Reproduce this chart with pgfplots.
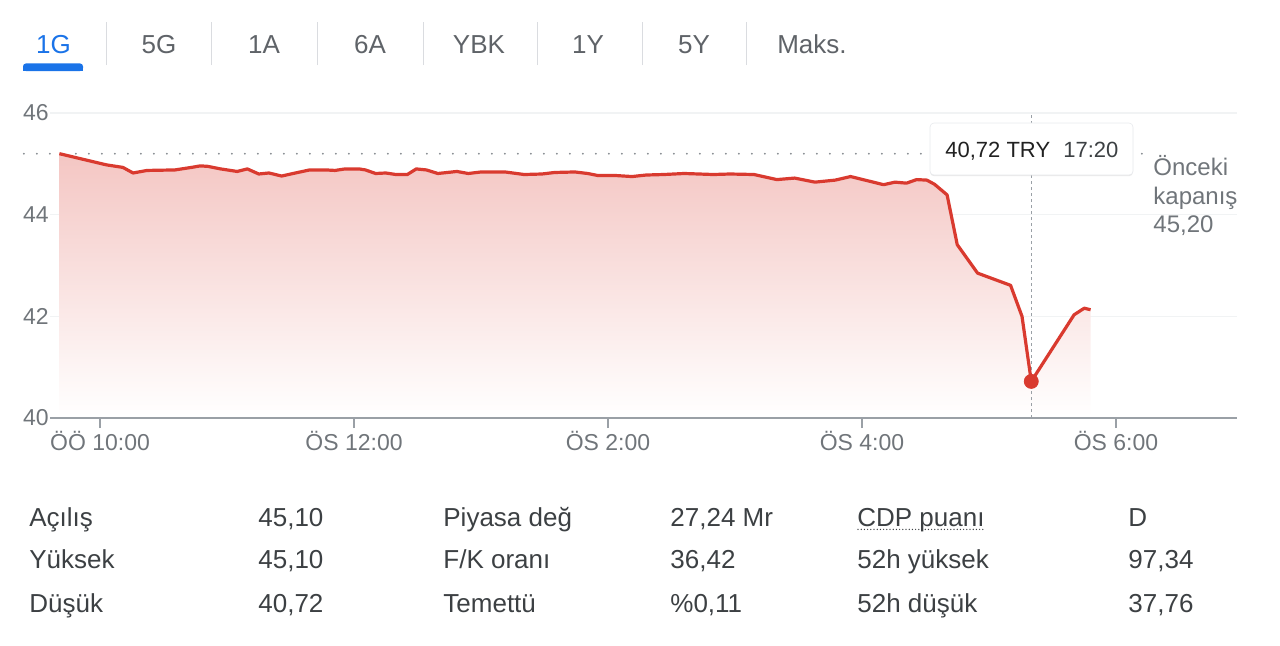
\documentclass[border=0pt]{standalone}
\usepackage{fontspec}
\setmainfont{Liberation Sans}
\usepackage{pgfplots}
\pgfplotsset{compat=1.18}
\usetikzlibrary{shadows}
\definecolor{gred}{HTML}{D93A2F}
\definecolor{gblue}{HTML}{1A73E8}
\definecolor{tabtext}{HTML}{5F6368}
\definecolor{sepgray}{HTML}{DADCE0}
\definecolor{axisgray}{HTML}{9AA0A6}
\definecolor{gridgray}{HTML}{F1F3F4}
\definecolor{labelgray}{HTML}{70757A}
\definecolor{dotgray}{HTML}{80868B}
\definecolor{tabletext}{HTML}{3C4043}
\definecolor{filltop}{HTML}{F4C6C3}
\definecolor{fillmid}{HTML}{FDF2F2}
\definecolor{boxborder}{HTML}{E8EAED}
\begin{document}
\begin{tikzpicture}[x=1pt,y=1pt]
\useasboundingbox (0,0) rectangle (640,322.5);
% tabs
\begin{scope}[every node/.style={font=\fontsize{13}{15}\selectfont, anchor=base, inner sep=0pt}]
\node[text=gblue] at (26.75,295.8) {1G};
\node[text=tabtext] at (79.5,295.8) {5G};
\node[text=tabtext] at (132,295.8) {1A};
\node[text=tabtext] at (185,295.8) {6A};
\node[text=tabtext] at (239.5,295.8) {YBK};
\node[text=tabtext] at (294,295.8) {1Y};
\node[text=tabtext] at (347,295.8) {5Y};
\node[text=tabtext] at (406,295.8) {Maks.};
\end{scope}
\foreach \sx in {53,105.5,158.5,211.5,268.5,321,373}{
  \draw[sepgray, line width=0.5pt] (\sx,290) -- (\sx,311.5);
}
\fill[gblue, rounded corners=1.5pt] (11.5,287) rectangle (41.5,290.8);
\fill[gblue] (11.5,287) rectangle (41.5,288.5);

\begin{axis}[
  at={(25pt,113.5pt)}, anchor=south west,
  scale only axis, width=593.5pt, height=152.5pt,
  xmin=9.606, xmax=18.953, ymin=40, ymax=46,
  axis x line*=bottom, axis y line*=left,
  y axis line style={draw=none},
  x axis line style={-, draw=axisgray, line width=0.75pt},
  xtick={10,12,14,16,18},
  xticklabels={ÖÖ 10:00,ÖS 12:00,ÖS 2:00,ÖS 4:00,ÖS 6:00},
  ytick={40,42,44,46},
  tick align=outside,
  major tick length=5pt,
  xtick style={draw=axisgray, line width=0.6pt},
  ytick style={draw=none},
  ymajorgrids,
  grid style={draw=gridgray, line width=0.6pt},
  ticklabel style={font=\fontsize{11.5}{13}\selectfont, text=labelgray},
  /pgf/number format/assume math mode=true,
  yticklabel style={inner xsep=0pt, xshift=4.5pt},
  xticklabel style={inner ysep=0pt, yshift=-1.5pt},
  clip=false,
]
% gradient area
\addplot[draw=none, mark=none, top color=filltop, middle color=fillmid, bottom color=white] coordinates {
(9.68,40.04) (9.68,45.20) (10.05,44.98) (10.18,44.93) (10.26,44.82) (10.37,44.87) (10.59,44.88)
(10.72,44.93) (10.79,44.96) (10.85,44.95) (10.95,44.90) (11.08,44.85) (11.16,44.90)
(11.25,44.80) (11.33,44.82) (11.43,44.76) (11.52,44.81) (11.65,44.88) (11.78,44.88)
(11.85,44.87) (11.93,44.90) (12.04,44.90) (12.09,44.88) (12.17,44.81) (12.25,44.82)
(12.33,44.79) (12.42,44.79) (12.49,44.90) (12.57,44.88) (12.66,44.81) (12.81,44.85)
(12.90,44.81) (13.00,44.84) (13.19,44.84) (13.34,44.79) (13.48,44.80) (13.58,44.83)
(13.74,44.84) (13.84,44.81) (13.92,44.77) (14.06,44.77) (14.19,44.75) (14.30,44.78)
(14.44,44.79) (14.60,44.81) (14.83,44.79) (14.96,44.80) (15.15,44.79) (15.33,44.69)
(15.47,44.72) (15.63,44.64) (15.79,44.68) (15.91,44.75) (16.04,44.67) (16.17,44.59)
(16.26,44.64) (16.35,44.62) (16.43,44.69) (16.51,44.68) (16.57,44.60) (16.67,44.39)
(16.75,43.41) (16.91,42.85) (17.17,42.61) (17.26,42.00) (17.333,40.72) (17.67,42.03)
(17.75,42.16) (17.80,42.13) (17.80,40.04)
};
% previous close
\addplot[dotgray, line width=1pt, mark=none, dash pattern=on 0pt off 6.5pt, line cap=round] coordinates {(9.40,45.20) (18.27,45.20)};
% cursor
\addplot[axisgray, line width=0.5pt, mark=none, dash pattern=on 1.5pt off 1.5pt] coordinates {(17.333,40) (17.333,46)};
% price line
\addplot[gred, line width=1.6pt, mark=none, line join=round] coordinates {
(9.68,45.20) (10.05,44.98) (10.18,44.93) (10.26,44.82) (10.37,44.87) (10.59,44.88)
(10.72,44.93) (10.79,44.96) (10.85,44.95) (10.95,44.90) (11.08,44.85) (11.16,44.90)
(11.25,44.80) (11.33,44.82) (11.43,44.76) (11.52,44.81) (11.65,44.88) (11.78,44.88)
(11.85,44.87) (11.93,44.90) (12.04,44.90) (12.09,44.88) (12.17,44.81) (12.25,44.82)
(12.33,44.79) (12.42,44.79) (12.49,44.90) (12.57,44.88) (12.66,44.81) (12.81,44.85)
(12.90,44.81) (13.00,44.84) (13.19,44.84) (13.34,44.79) (13.48,44.80) (13.58,44.83)
(13.74,44.84) (13.84,44.81) (13.92,44.77) (14.06,44.77) (14.19,44.75) (14.30,44.78)
(14.44,44.79) (14.60,44.81) (14.83,44.79) (14.96,44.80) (15.15,44.79) (15.33,44.69)
(15.47,44.72) (15.63,44.64) (15.79,44.68) (15.91,44.75) (16.04,44.67) (16.17,44.59)
(16.26,44.64) (16.35,44.62) (16.43,44.69) (16.51,44.68) (16.57,44.60) (16.67,44.39)
(16.75,43.41) (16.91,42.85) (17.17,42.61) (17.26,42.00) (17.333,40.72) (17.67,42.03)
(17.75,42.16) (17.80,42.13)
};
\addplot[only marks, mark=*, mark size=3.5pt, gred, mark options={draw=gred, fill=gred}] coordinates {(17.333,40.72)};
\end{axis}

% tooltip
\fill[white, rounded corners=2pt, drop shadow={opacity=0.18, shadow xshift=0pt, shadow yshift=-0.6pt}] (465,235) rectangle (566.5,261);
\draw[boxborder, line width=0.3pt, rounded corners=2pt] (465,235) rectangle (566.5,261);
\node[anchor=base west, inner sep=0pt, font=\fontsize{11}{13}\selectfont, text=black!87] at (472.5,244) {40,72 TRY};
\node[anchor=base west, inner sep=0pt, font=\fontsize{11}{13}\selectfont, text=tabletext] at (531.5,244) {17:20};

% previous close label
\begin{scope}[every node/.style={anchor=base west, inner sep=0pt, font=\fontsize{12}{14}\selectfont, text=labelgray}]
\node at (576.5,235) {Önceki};
\node at (576.5,220.5) {kapanış};
\node at (576.5,206.5) {45,20};
\end{scope}

% key stats table
\begin{scope}[every node/.style={anchor=base west, inner sep=0pt, font=\fontsize{13}{15}\selectfont, text=tabletext}]
\node at (14.5,59.5) {Açılış};
\node at (129,59.5) {45,10};
\node at (221.5,59.5) {Piyasa değ};
\node at (335,59.5) {27,24 Mr};
\node (cdp) at (428.5,59.5) {CDP puanı};
\node at (564,59.5) {D};
\node at (14.5,38.5) {Yüksek};
\node at (129,38.5) {45,10};
\node at (221.5,38.5) {F/K oranı};
\node at (335,38.5) {36,42};
\node at (428.5,38.5) {52h yüksek};
\node at (564,38.5) {97,34};
\node at (14.5,16.5) {Düşük};
\node at (129,16.5) {40,72};
\node at (221.5,16.5) {Temettü};
\node at (335,16.5) {\%0,11};
\node at (428.5,16.5) {52h düşük};
\node at (564,16.5) {37,76};
\end{scope}
\draw[tabletext, line width=0.7pt, dash pattern=on 0pt off 1.6pt, line cap=round] (429,57.8) -- (492,57.8);
\end{tikzpicture}
\end{document}
